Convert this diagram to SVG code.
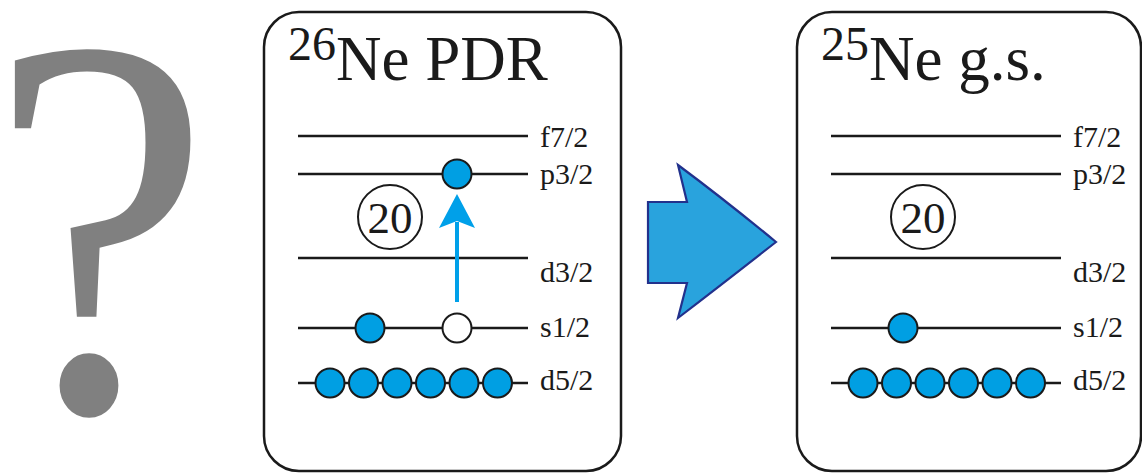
<svg xmlns="http://www.w3.org/2000/svg" width="1142" height="473" viewBox="0 0 1142 473">
  <style>
    .box { fill: #ffffff; stroke: #1a1a1a; stroke-width: 2.5; }
    .level { stroke: #1a1a1a; stroke-width: 2.5; fill: none; }
    .e { fill: #009fe3; stroke: #1a1a1a; stroke-width: 2; }
    .hole { fill: #ffffff; stroke: #1a1a1a; stroke-width: 2; }
    .magic { fill: none; stroke: #1a1a1a; stroke-width: 2; }
    .txt { fill: #1a1a1a; }
    .lbl { font-size: 30px; }
    .sup { font-size: 48px; }
    .title { font-size: 63px; }
    .num { font-size: 45px; }
  </style>

  <!-- question mark -->
  <g id="question">
    <text font-family="Liberation Serif" x="0" y="0" font-size="500" fill="#808080" transform="translate(-11,410) scale(1,1.09)">?</text>
  </g>

  <!-- 26Ne PDR panel -->
  <g id="ne26">
    <rect class="box" x="264" y="12" width="357" height="459" rx="35" ry="35"/>
    <text font-family="Liberation Serif" class="txt sup" x="288" y="60">26</text>
    <text font-family="Liberation Serif" class="txt title" x="336" y="80">Ne PDR</text>
    <line class="level" x1="298" y1="136" x2="528" y2="136"/>
    <line class="level" x1="298" y1="174" x2="528" y2="174"/>
    <line class="level" x1="298" y1="258" x2="528" y2="258"/>
    <line class="level" x1="298" y1="328" x2="528" y2="328"/>
    <line class="level" x1="298" y1="383" x2="528" y2="383"/>
    <text font-family="Liberation Serif" class="txt lbl" x="540" y="147">f7/2</text>
    <text font-family="Liberation Serif" class="txt lbl" x="540" y="184">p3/2</text>
    <text font-family="Liberation Serif" class="txt lbl" x="540" y="282">d3/2</text>
    <text font-family="Liberation Serif" class="txt lbl" x="540" y="337">s1/2</text>
    <text font-family="Liberation Serif" class="txt lbl" x="540" y="390">d5/2</text>
    <circle class="magic" cx="390" cy="217" r="32"/>
    <text font-family="Liberation Serif" class="txt num" x="390" y="233" text-anchor="middle">20</text>
    <circle class="e" cx="457" cy="174" r="14.5"/>
    <circle class="e" cx="370" cy="328" r="14.5"/>
    <circle class="hole" cx="457" cy="328" r="14.5"/>
    <circle class="e" cx="330" cy="383" r="14.5"/>
    <circle class="e" cx="363.5" cy="383" r="14.5"/>
    <circle class="e" cx="397" cy="383" r="14.5"/>
    <circle class="e" cx="430.5" cy="383" r="14.5"/>
    <circle class="e" cx="464" cy="383" r="14.5"/>
    <circle class="e" cx="497.5" cy="383" r="14.5"/>
  </g>

  <!-- 25Ne g.s. panel -->
  <g id="ne25">
    <rect class="box" x="797" y="12" width="344" height="459" rx="35" ry="35"/>
    <text font-family="Liberation Serif" class="txt sup" x="821" y="60">25</text>
    <text font-family="Liberation Serif" class="txt title" x="869" y="80">Ne g.s.</text>
    <line class="level" x1="831" y1="136" x2="1061" y2="136"/>
    <line class="level" x1="831" y1="174" x2="1061" y2="174"/>
    <line class="level" x1="831" y1="258" x2="1061" y2="258"/>
    <line class="level" x1="831" y1="328" x2="1061" y2="328"/>
    <line class="level" x1="831" y1="383" x2="1061" y2="383"/>
    <text font-family="Liberation Serif" class="txt lbl" x="1073" y="147">f7/2</text>
    <text font-family="Liberation Serif" class="txt lbl" x="1073" y="184">p3/2</text>
    <text font-family="Liberation Serif" class="txt lbl" x="1073" y="282">d3/2</text>
    <text font-family="Liberation Serif" class="txt lbl" x="1073" y="337">s1/2</text>
    <text font-family="Liberation Serif" class="txt lbl" x="1073" y="390">d5/2</text>
    <circle class="magic" cx="923" cy="217" r="32"/>
    <text font-family="Liberation Serif" class="txt num" x="923" y="233" text-anchor="middle">20</text>
    <circle class="e" cx="903" cy="328" r="14.5"/>
    <circle class="e" cx="863" cy="383" r="14.5"/>
    <circle class="e" cx="896.5" cy="383" r="14.5"/>
    <circle class="e" cx="930" cy="383" r="14.5"/>
    <circle class="e" cx="963.5" cy="383" r="14.5"/>
    <circle class="e" cx="997" cy="383" r="14.5"/>
    <circle class="e" cx="1030.5" cy="383" r="14.5"/>
  </g>

  <!-- connectors -->
  <g id="connectors">
    <!-- excitation s1/2 -> p3/2 -->
    <line x1="457" y1="302" x2="457" y2="222" stroke="#00a0e9" stroke-width="4"/>
    <path d="M457,194 L475,228 L457,221 L439,228 Z" fill="#00a0e9"/>
    <!-- block arrow between panels -->
    <path d="M648,202 L687,202 L678,165 Q725,200 776,242 Q725,282 678,318 L687,283 L648,283 Z"
          fill="#29a3dd" stroke="#22318c" stroke-width="2.2" stroke-linejoin="miter"/>
  </g>
</svg>
